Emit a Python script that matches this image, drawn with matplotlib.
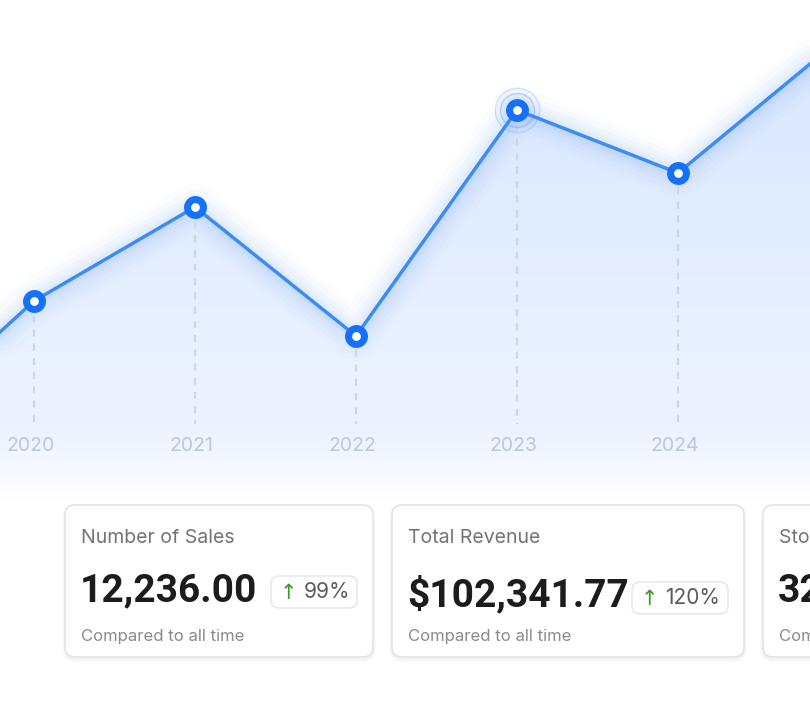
import numpy as np
import matplotlib
matplotlib.use("Agg")
import matplotlib.pyplot as plt
from matplotlib.patches import FancyBboxPatch, Polygon

# ---------------- data ----------------
years = [2019, 2020, 2021, 2022, 2023, 2024, 2025]
values = [264, 411, 505, 376, 602, 539, 672]
label_years = [2020, 2021, 2022, 2023, 2024]
highlight_year = 2023

card_titles = ["Number of Sales", "Total Revenue", "Stock Available"]
card_values = ["12,236.00", "$102,341.77", "32,140"]
card_changes = ["99%", "120%", ""]
card_note = "Compared to all time"

# ---------------- figure ----------------
W, H = 810, 712
fig = plt.figure(figsize=(W / 100, H / 100), dpi=100)
fig.patch.set_facecolor("white")
ax = fig.add_axes([0, 0, 1, 1])
x0, step = 34, 161.0
xmin = 2020 - x0 / step
xmax = 2020 + (W - x0) / step
ax.set_xlim(xmin, xmax)
ax.set_ylim(0, H)
ax.axis("off")

val = dict(zip(years, values))

# soft background haze below the chart (full width, fading out)
ys = np.linspace(0, H, 400)
px = H - ys
bg_alpha = np.interp(px, [380, 440, 505], [0.0, 0.10, 0.0])
bg = np.zeros((len(ys), 2, 4))
bg[..., 0], bg[..., 1], bg[..., 2] = 0.80, 0.87, 1.0
bg[..., 3] = bg_alpha[:, None]
ax.imshow(bg, extent=[xmin, xmax, 0, H], origin="lower", aspect="auto",
          zorder=0.5, interpolation="bilinear")

# gradient area under the line
alpha = np.interp(px, [40, 130, 300, 420, 500], [0.62, 0.56, 0.42, 0.28, 0.0])
img = np.zeros((len(ys), 2, 4))
img[..., 0] = 0.76
img[..., 1] = 0.85
img[..., 2] = 1.0
img[..., 3] = alpha[:, None]
im = ax.imshow(img, extent=[xmin, xmax, 0, H], origin="lower", aspect="auto",
               zorder=1, interpolation="bilinear")
poly = Polygon(list(zip(years, values)) + [(years[-1], 0), (years[0], 0)],
               closed=True, transform=ax.transData, facecolor="none", edgecolor="none")
ax.add_patch(poly)
im.set_clip_path(poly)

# glow around the line
for lw, a in [(34, 0.018), (26, 0.022), (19, 0.03), (13, 0.04), (8, 0.05)]:
    ax.plot(years, values, color="#4a8ff7", lw=lw, alpha=a, solid_capstyle="round",
            solid_joinstyle="round", zorder=2)

# dashed guides and year labels
for yr in label_years:
    ax.plot([yr, yr], [val[yr], 288], color="#d0d7e4", lw=1.6,
            linestyle=(0, (3.2, 3.2)), zorder=2.5)
    ax.text(yr - 0.02, H - 446, str(yr), ha="center", va="center", fontsize=14,
            color="#bcc7db", family=["Inter", "DejaVu Sans"], zorder=3)

# line
ax.plot(years, values, color="#3d8cf6", lw=2.5, zorder=3, solid_joinstyle="round")

# highlight rings
hv = val[highlight_year]
ax.plot([highlight_year], [hv], "o", ms=32, mfc=(0.25, 0.5, 1.0, 0.06),
        mec=(0.3, 0.55, 1.0, 0.22), mew=1.0, zorder=3.5)
ax.plot([highlight_year], [hv], "o", ms=24.5, mfc=(0.25, 0.5, 1.0, 0.07),
        mec=(0.3, 0.55, 1.0, 0.32), mew=1.0, zorder=3.6)

# markers
mx = label_years
my = [val[y] for y in label_years]
ax.plot(mx, my, "o", ms=16.5, mfc="#1570fb", mec="none", zorder=4)
ax.plot(mx, my, "o", ms=6.3, mfc="white", mec="none", zorder=5)

# ---------------- cards ----------------
ax2 = fig.add_axes([0, 0, 1, 1], zorder=5)
ax2.set_xlim(0, W)
ax2.set_ylim(H, 0)
ax2.axis("off")
ax2.patch.set_alpha(0)

fam = ["Inter", "DejaVu Sans"]
bigfam = ["Roboto", "DejaVu Sans"]
cards = [(65, 505, 308, 152), (392, 505, 352, 152), (763, 505, 120, 152)]
value_y = [591, 595, 591]
badges = [(271, 576, 86, 32), (632, 582, 96, 32), None]

for i, (cx, cy, cw, ch) in enumerate(cards):
    for k, a in [(6, 0.012), (4, 0.018), (2, 0.025)]:
        ax2.add_patch(FancyBboxPatch((cx - k / 2, cy - k / 2 + 2), cw + k, ch + k,
                                     boxstyle="round,pad=0,rounding_size=12",
                                     fc=(0.1, 0.15, 0.3, a), ec="none", zorder=1))
    ax2.add_patch(FancyBboxPatch((cx, cy), cw, ch,
                                 boxstyle="round,pad=0,rounding_size=10",
                                 fc="white", ec="#e3e5e9", lw=1.3, zorder=2))
    tx = cx + 16
    ax2.text(tx, 538, card_titles[i], fontsize=14, color="#737373", family=fam,
             va="center", ha="left", zorder=3)
    ax2.text(tx - 1, value_y[i], card_values[i], fontsize=28, color="#1c1c1e",
             fontweight="bold", family=bigfam, va="center", ha="left", zorder=3)
    ax2.text(tx, 636, card_note, fontsize=12, color="#8a8a8a", family=fam,
             va="center", ha="left", zorder=3)
    b = badges[i]
    if b:
        bx, by, bw, bh = b
        ax2.add_patch(FancyBboxPatch((bx, by), bw, bh,
                                     boxstyle="round,pad=0,rounding_size=8",
                                     fc="white", ec="#e6e7ea", lw=1.1, zorder=3))
        ax2.text(bx + 17, by + bh / 2 + 1, "\u2191", fontsize=15, color="#3c9a22",
                 family=["DejaVu Sans"], va="center", ha="center", zorder=4)
        ax2.text(bx + 33, by + bh / 2, card_changes[i], fontsize=15, color="#5a5a5a",
                 family=fam, va="center", ha="left", zorder=4)

fig.savefig("out.png", dpi=100, facecolor="white")
